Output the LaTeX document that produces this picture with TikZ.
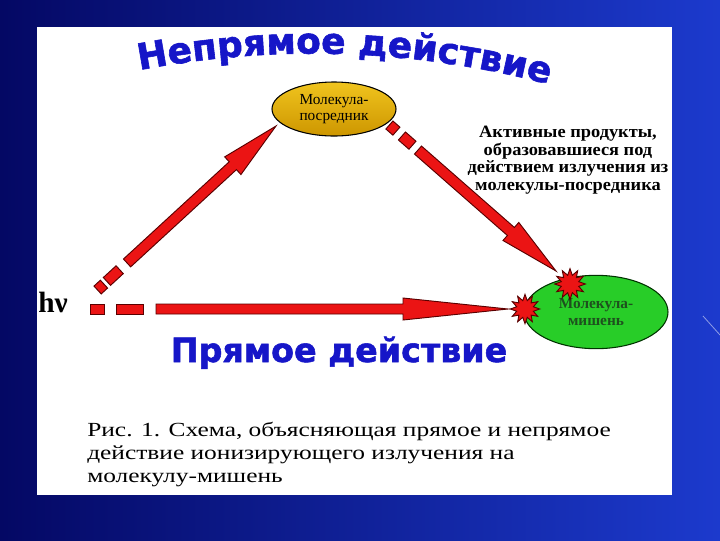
\documentclass[tikz,border=0pt]{standalone}
\usepackage{fontspec}
\setmainfont{Liberation Serif}
\newfontfamily\heavy{DejaVu Sans}[UprightFont=* Bold, FakeBold=1.6]
\usetikzlibrary{calc,decorations.text,shapes.geometric}
\definecolor{bgdark}{RGB}{4,8,100}
\definecolor{bglight}{RGB}{28,58,205}
\definecolor{titleblue}{RGB}{22,22,200}
\definecolor{arrowred}{RGB}{235,20,20}
\definecolor{arrowedge}{RGB}{90,0,0}
\definecolor{goldtop}{RGB}{240,196,30}
\definecolor{goldbot}{RGB}{205,150,0}
\definecolor{leaf}{RGB}{40,205,40}
\definecolor{leaftext}{RGB}{30,80,30}
\tikzset{
  redshape/.style={fill=arrowred, draw=arrowedge, line width=0.7pt, line join=miter},
  molnode/.style={ellipse, draw=black, line width=0.8pt, inner sep=0pt, align=center},
  burst/.style={star, star points=12, star point ratio=1.7, fill=arrowred, draw=arrowedge, line width=0.7pt, minimum size=23pt, inner sep=0pt},
  bigtitle/.style={font=\heavy\fontsize{25}{25}\selectfont, text=titleblue, inner sep=0pt}
}
% dash segment between distances #3 and #4 along #1->#2, half width #5
\newcommand\dashseg[5]{%
  \coordinate (dsP) at ($(#1)!#3!(#2)$);
  \coordinate (dsQ) at ($(#1)!#4!(#2)$);
  \path[redshape] ($(dsP)!#5!90:(#2)$) -- ($(dsQ)!#5!90:(#2)$) -- ($(dsQ)!#5!-90:(#2)$) -- ($(dsP)!#5!-90:(#2)$) -- cycle;
}
% fat arrow from distance #3 along #1->#2 to tip #2, head length #4, half shaft #5, half head #6
\newcommand\fatarrow[6]{%
  \coordinate (faS) at ($(#1)!#3!(#2)$);
  \coordinate (faB) at ($(#2)!#4!(#1)$);
  \path[redshape] ($(faS)!#5!90:(#2)$) -- ($(faB)!#5!90:(#2)$) -- ($(faB)!#6!90:(#2)$) -- (#2)
     -- ($(faB)!#6!-90:(#2)$) -- ($(faB)!#5!-90:(#2)$) -- ($(faS)!#5!-90:(#2)$) -- cycle;
}
\begin{document}
\begin{tikzpicture}[x=0.75pt,y=-0.75pt]
\useasboundingbox (0,0) rectangle (720,540);
\shade[left color=bgdark, right color=bglight] (0,0) rectangle (720,540);
\draw[white, opacity=0.5, line width=0.6pt] (703,316) -- (720,335);
\fill[white] (37,27) rectangle (672,495);

% title along arc
\path[decorate, decoration={text along path, text align=center, text color=titleblue,
  text={|\heavy\fontsize{27}{27}\selectfont|Непрямое действие}}]
  (140,70) .. controls (277,44) and (413,49) .. (548,84);

% molecules
\node[molnode, top color=goldtop, bottom color=goldbot, minimum width=93pt, minimum height=40.5pt,
  font=\fontsize{11.5}{12.5}\selectfont] (med) at (334,109) {Молекула-\\посредник};
\node[molnode, fill=leaf, draw=black!80!green, minimum width=108pt, minimum height=55pt,
  font=\bfseries\fontsize{11.5}{13}\selectfont, text=leaftext] (tgt) at (596,312) {Молекула-\\мишень};

% arrow coordinates
\coordinate (hA) at (90,309);   \coordinate (hT) at (508,309);
\coordinate (uA) at (97.6,290); \coordinate (uT) at (276,126);
\coordinate (dA) at (389.4,125);\coordinate (dT) at (556,271);

% direct action arrow
\dashseg{hA}{hT}{0pt}{10.5pt}{3.75pt}
\dashseg{hA}{hT}{19.5pt}{39.75pt}{3.75pt}
\fatarrow{hA}{hT}{49.5pt}{78.75pt}{3.75pt}{8.25pt}

% arrow to mediator
\dashseg{uA}{uT}{0pt}{6.5pt}{4pt}
\dashseg{uA}{uT}{9.5pt}{22.5pt}{4pt}
\fatarrow{uA}{uT}{30pt}{44pt}{4pt}{9pt}

% arrow from mediator to target
\dashseg{dA}{dT}{0pt}{7pt}{4pt}
\dashseg{dA}{dT}{12.5pt}{23pt}{4pt}
\fatarrow{dA}{dT}{28.5pt}{45pt}{4pt}{9pt}

% bursts
\node[burst] (b1) at (570,284) {};
\node[burst, minimum size=22pt] (b2) at (525,309) {};

% labels
\node[anchor=base west, inner sep=0pt, font=\bfseries\fontsize{22}{22}\selectfont] (hv) at (38,312) {hν};
\node[anchor=north, inner sep=0pt, align=center, font=\bfseries\fontsize{13}{13.2}\selectfont] (prod) at (568,126)
  {\scalebox{1.06}[1]{Активные продукты,}\\\scalebox{1.06}[1]{образовавшиеся под}\\\scalebox{1.06}[1]{действием излучения из}\\\scalebox{1.06}[1]{молекулы-посредника}};
\node[bigtitle, anchor=base] (direct) at (339,362) {Прямое действие};
\node[anchor=north west, inner sep=0pt, align=left, font=\fontsize{15}{17.2}\selectfont] (cap) at (87,422)
  {\scalebox{1.27}[1]{Рис. 1. Схема, объясняющая прямое и непрямое}\\\scalebox{1.27}[1]{действие ионизирующего излучения на}\\\scalebox{1.27}[1]{молекулу-мишень}};
\end{tikzpicture}
\end{document}
